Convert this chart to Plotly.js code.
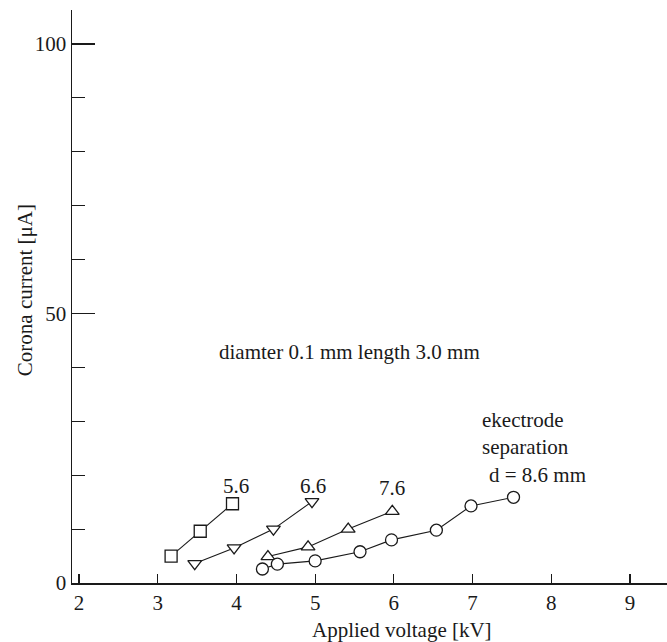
<!DOCTYPE html>
<html>
<head>
<meta charset="utf-8">
<script src="https://cdn.plot.ly/plotly-3.0.1.min.js"></script>
<style>html,body{margin:0;padding:0;background:#fff;}#chart{width:667px;height:642px;}</style>
</head>
<body>
<div id="chart"></div>
<script>
// Data (applied voltage kV, corona current µA)
const sep56_x = [3.17, 3.54, 3.95];
const sep56_y = [5.0, 9.6, 14.7];
const sep66_x = [3.47, 3.97, 4.47, 4.96];
const sep66_y = [3.6, 6.5, 10.0, 15.1];
const sep76_x = [4.40, 4.91, 5.42, 5.98];
const sep76_y = [4.9, 6.7, 10.0, 13.3];
const sep86_x = [4.33, 4.52, 5.00, 5.57, 5.97, 6.54, 6.98, 7.52];
const sep86_y = [2.6, 3.5, 4.1, 5.8, 8.0, 9.8, 14.3, 15.9];
const seriesNames = ["5.6", "6.6", "7.6", "8.6"];
const xTickVals = [2, 3, 4, 5, 6, 7, 8, 9];
const yTickVals = [0, 50, 100];

const FONT = "Liberation Serif, Times New Roman, serif";
const INK = "#1a1a1a";
const FS = 21;

function series(x, y, sym, name) {
  return {
    x: x, y: y, name: name, type: "scatter", mode: "lines+markers",
    line: {color: INK, width: 1.1},
    marker: {symbol: sym, size: 12, color: "#ffffff", line: {color: INK, width: 1.3}},
    cliponaxis: false, showlegend: false
  };
}

const data = [
  series(sep56_x, sep56_y, "square", seriesNames[0]),
  series(sep66_x, sep66_y, "triangle-down", seriesNames[1]),
  series(sep76_x, sep76_y, "triangle-up", seriesNames[2]),
  series(sep86_x, sep86_y, "circle", seriesNames[3])
];

const ann = (text, x, y, opts) => Object.assign({
  text: text, x: x, y: y, xref: "x", yref: "y", showarrow: false,
  xanchor: "center", yanchor: "middle",
  font: {family: FONT, size: FS, color: INK}
}, opts || {});

const layout = {
  width: 667, height: 642,
  margin: {l: 72, r: 0, t: 10, b: 59},
  paper_bgcolor: "#fff", plot_bgcolor: "#fff",
  font: {family: FONT, size: FS, color: INK},
  xaxis: {
    range: [1.911, 9.47], tickvals: xTickVals, ticktext: xTickVals.map(String),
    ticks: "inside", ticklen: 9, tickwidth: 1.2, tickcolor: INK,
    showline: true, linecolor: INK, linewidth: 1.5,
    showgrid: false, zeroline: false,
    tickfont: {family: FONT, size: FS, color: INK}
  },
  yaxis: {
    range: [0, 106.3], tickvals: yTickVals, ticktext: yTickVals.map(String),
    ticks: "inside", ticklen: 23, tickwidth: 1.5, tickcolor: INK,
    minor: {dtick: 10, ticks: "inside", ticklen: 13, tickwidth: 1, tickcolor: INK, showgrid: false},
    showline: true, linecolor: INK, linewidth: 1.5,
    showgrid: false, zeroline: false,
    tickfont: {family: FONT, size: FS, color: INK}
  },
  annotations: [
    ann("5.6", 4.0, 18.0),
    ann("6.6", 4.97, 18.0),
    ann("7.6", 5.98, 17.6),
    ann("diamter 0.1 mm length 3.0 mm", 5.44, 42.9),
    ann("ekectrode", 7.10, 30.3, {xanchor: "left"}),
    ann("separation", 7.10, 25.3, {xanchor: "left"}),
    ann("d = 8.6 mm", 7.18, 20.1, {xanchor: "left"}),
    ann("Applied voltage [kV]", 0.5546, -0.082, {xref: "paper", yref: "paper"}),
    ann("Corona current [μA]", -0.079, 0.511, {xref: "paper", yref: "paper", textangle: -90})
  ]
};

Plotly.newPlot("chart", data, layout, {staticPlot: true, displayModeBar: false});
</script>
</body>
</html>
